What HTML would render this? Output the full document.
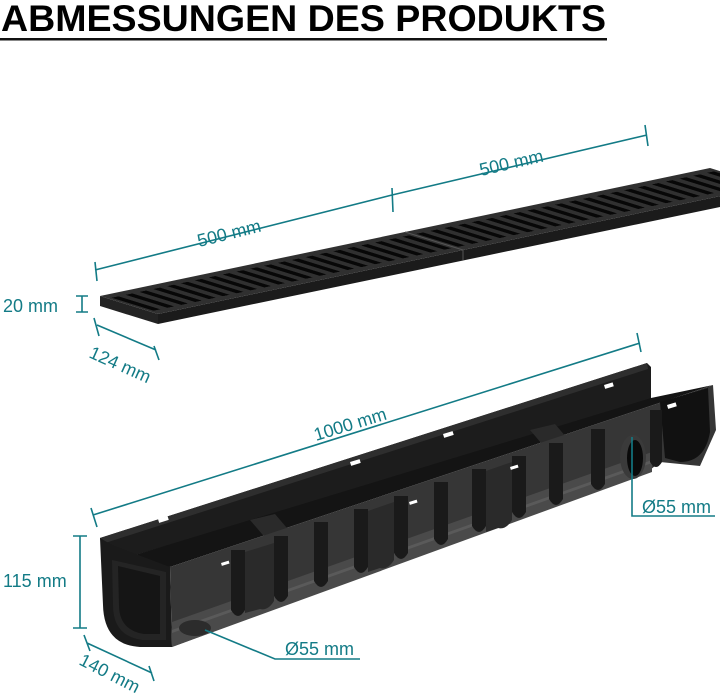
<!DOCTYPE html>
<html><head><meta charset="utf-8"><style>
html,body{margin:0;padding:0;background:#fff;}
svg{display:block}
text{font-family:"Liberation Sans",sans-serif;}
.d{fill:#137b86;font-size:18px}
.l{stroke:#137b86;stroke-width:1.6;fill:none}
</style></head><body>
<svg width="720" height="698" viewBox="0 0 720 698" xmlns="http://www.w3.org/2000/svg">
<defs>
<pattern id="sl" patternUnits="userSpaceOnUse" x="0" y="0" width="0.0227" height="1" patternTransform="matrix(610,-128,58,18,100,296)">
<rect x="0" y="0" width="0.0227" height="1" fill="#303030"/>
<rect x="0.006" y="0.14" width="0.011" height="0.72" fill="#070707"/>
</pattern>
</defs>
<text x="1" y="31" font-size="37" font-weight="bold" textLength="605" lengthAdjust="spacingAndGlyphs" fill="#000">ABMESSUNGEN DES PRODUKTS</text>
<rect x="0" y="38" width="607" height="2.5" fill="#111"/>

<!-- grating -->
<polygon points="158,314 768,186 768,197 158,324" fill="#1b1b1b"/>
<polygon points="100,296 158,314 158,324 100,306" fill="#232323"/>
<polygon points="100,296 710,168 768,186 158,314" fill="url(#sl)"/>
<line x1="405" y1="232" x2="463" y2="250" stroke="#555" stroke-width="1"/>
<line x1="463" y1="250" x2="463" y2="260" stroke="#555" stroke-width="1"/>

<!-- channel: back wall -->
<polygon points="100,538 647,363 651,367 651,402 112,562 104,556" fill="#1c1c1c"/>
<polygon points="100,538 647,363 648,369 102,544" fill="#2e2e2e"/>
<polygon points="112,562 651,398 713,385 170,567" fill="#141414"/>
<polygon points="250,520 275,514 310,555 285,561" fill="#2a2a2a"/>
<polygon points="530,430 555,424 590,465 565,471" fill="#2a2a2a"/>
<!-- left U end -->
<path d="M100,538 L112,545 L170,567 L172,647 L140,647 Q104,645 103,605 Z" fill="#1a1a1a"/>
<path d="M112,560 L166,572 L166,640 L142,640 Q113,636 113,605 Z" fill="#242424"/>
<path d="M118,566 L160,576 L160,634 L144,634 Q119,630 119,605 Z" fill="#151515"/>
<!-- front wall -->
<polygon points="170,567 713,385 716,430 700,466 660,462 650,470 172,647" fill="#363636"/>
<polygon points="172,622 652,452 652,472 172,647" fill="#4a4a4a"/>
<polygon points="172,630 652,460 652,463 172,633" fill="#5a5a5a"/>
<path d="M660,402 L708,388 L710,432 Q705,462 680,462 L665,458 Z" fill="#111"/>
<!-- ribs -->
<g fill="#1a1a1a">
<path d="M231,550 h14 v60 q-7,12 -14,0z"/>
<path d="M274,536 h14 v60 q-7,12 -14,0z"/>
<path d="M314,522 h14 v59 q-7,12 -14,0z"/>
<path d="M354,509 h14 v58 q-7,12 -14,0z"/>
<path d="M394,496 h14 v57 q-7,12 -14,0z"/>
<path d="M434,482 h14 v57 q-7,12 -14,0z"/>
<path d="M472,469 h14 v57 q-7,12 -14,0z"/>
<path d="M512,456 h14 v56 q-7,12 -14,0z"/>
<path d="M549,443 h14 v56 q-7,12 -14,0z"/>
<path d="M591,429 h14 v55 q-7,12 -14,0z"/>
<path d="M650,410 h12 v52 q-6,10 -12,0z"/>
</g>
<g fill="#2a2a2a">
<path d="M245,552 l29,-9 v58 q-6,10 -14,8 l-15,4z"/>
<path d="M368,511 l26,-9 v58 q-6,10 -14,8 l-12,4z"/>
<path d="M486,471 l26,-9 v58 q-6,10 -14,8 l-12,4z"/>
</g>
<g fill="#fff">
<rect x="158" y="519" width="10" height="4" transform="rotate(-17 158 519)"/>
<rect x="350" y="462" width="10" height="4" transform="rotate(-17 350 462)"/>
<rect x="443" y="434" width="10" height="4" transform="rotate(-17 443 434)"/>
<rect x="604" y="385" width="9" height="4" transform="rotate(-17 604 385)"/>
<rect x="667" y="405" width="9" height="4" transform="rotate(-17 667 405)"/>
<rect x="221" y="563" width="8" height="3" transform="rotate(-17 221 563)"/>
<rect x="409" y="502" width="8" height="3" transform="rotate(-17 409 502)"/>
<rect x="510" y="467" width="8" height="3" transform="rotate(-17 510 467)"/>
</g>
<ellipse cx="633" cy="457" rx="13" ry="22" fill="#3a3a3a"/>
<ellipse cx="635" cy="458" rx="8" ry="18" fill="#0a0a0a"/>
<ellipse cx="195" cy="628" rx="16" ry="8" fill="#2c2c2c"/>

<!-- dimensions -->
<g class="l">
<path d="M95,270 L392,195 M95,262 L97,281 M392,188 L393,212"/>
<path d="M392,195 L647,135 M645,125 L648,146"/>
<path d="M82,296 V312 M76,296 H88 M76,312 H88"/>
<path d="M97,325 L156,350 M94,318 L99,336 M154,346 L159,360"/>
<path d="M93,515 L640,343 M91,508 L97,527 M637,333 L641,352"/>
<path d="M80,536 V628 M73,536 H87 M73,628 H87"/>
<path d="M87,643 L152,673 M84,635 L90,651 M149,666 L154,681"/>
<path d="M205,630 L275,659 H360"/>
<path d="M632,437 V516 H715"/>
</g>
<text class="d" transform="translate(199,247) rotate(-14)">500 mm</text>
<text class="d" transform="translate(481,176) rotate(-13)">500 mm</text>
<text class="d" x="3" y="312">20 mm</text>
<text class="d" transform="translate(88,357) rotate(24)">124 mm</text>
<text class="d" transform="translate(316,441) rotate(-17)">1000 mm</text>
<text class="d" x="3" y="587">115 mm</text>
<text class="d" transform="translate(78,664) rotate(27)">140 mm</text>
<text class="d" x="285" y="655">Ø55 mm</text>
<text class="d" x="642" y="513">Ø55 mm</text>
</svg>
</body></html>
